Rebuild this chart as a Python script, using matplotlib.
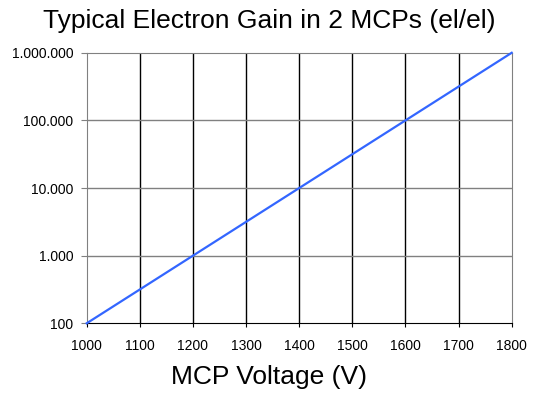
import matplotlib
matplotlib.use("Agg")
import matplotlib.pyplot as plt
from matplotlib.ticker import FixedLocator, FuncFormatter, NullLocator

plt.rcParams["font.family"] = ["Liberation Sans", "DejaVu Sans"]

# gain curve endpoints (straight line on log scale)
voltage = [1000, 1800]
gain = [100, 1_000_000]

x_ticks = [1000, 1100, 1200, 1300, 1400, 1500, 1600, 1700, 1800]
y_ticks = [100, 1_000, 10_000, 100_000, 1_000_000]


def dotted_thousands(v, _pos):
    return f"{int(round(v)):,}".replace(",", ".")


fig = plt.figure(figsize=(5.38, 3.99), dpi=100)
ax = fig.add_axes([0.1611, 0.1897, 0.790, 0.678])

ax.set_yscale("log")
ax.set_xlim(1000, 1800)
ax.set_ylim(100, 1_000_000)

ax.xaxis.set_major_locator(FixedLocator(x_ticks))
ax.yaxis.set_major_locator(FixedLocator(y_ticks))
ax.yaxis.set_minor_locator(NullLocator())
ax.yaxis.set_major_formatter(FuncFormatter(dotted_thousands))

# vertical grid black, horizontal grid gray
for xv in x_ticks[1:-1]:
    ax.axvline(xv, color="black", lw=1.0, zorder=1)
for yv in y_ticks[1:-1]:
    ax.axhline(yv, color="#808080", lw=1.0, zorder=1)

ax.plot(voltage, gain, color="#3366ff", lw=1.6, zorder=3, clip_on=False)

for side in ("left", "right", "top"):
    ax.spines[side].set_color("#808080")
ax.spines["bottom"].set_color("black")
ax.tick_params(axis="y", colors="#808080", labelcolor="black", length=4.5,
               pad=5, labelsize=10)
ax.tick_params(axis="x", colors="black", length=3, labelsize=10, pad=8)

# title and axis label are centred on the figure rather than the axes
fig_center = (0.5 - 0.1611) / 0.790
ax.set_title("Typical Electron Gain in 2 MCPs (el/el)", fontsize=19, pad=18,
             x=fig_center)
ax.set_xlabel("MCP Voltage (V)", fontsize=19, labelpad=9, x=fig_center)

fig.savefig("out.png", dpi=100)
